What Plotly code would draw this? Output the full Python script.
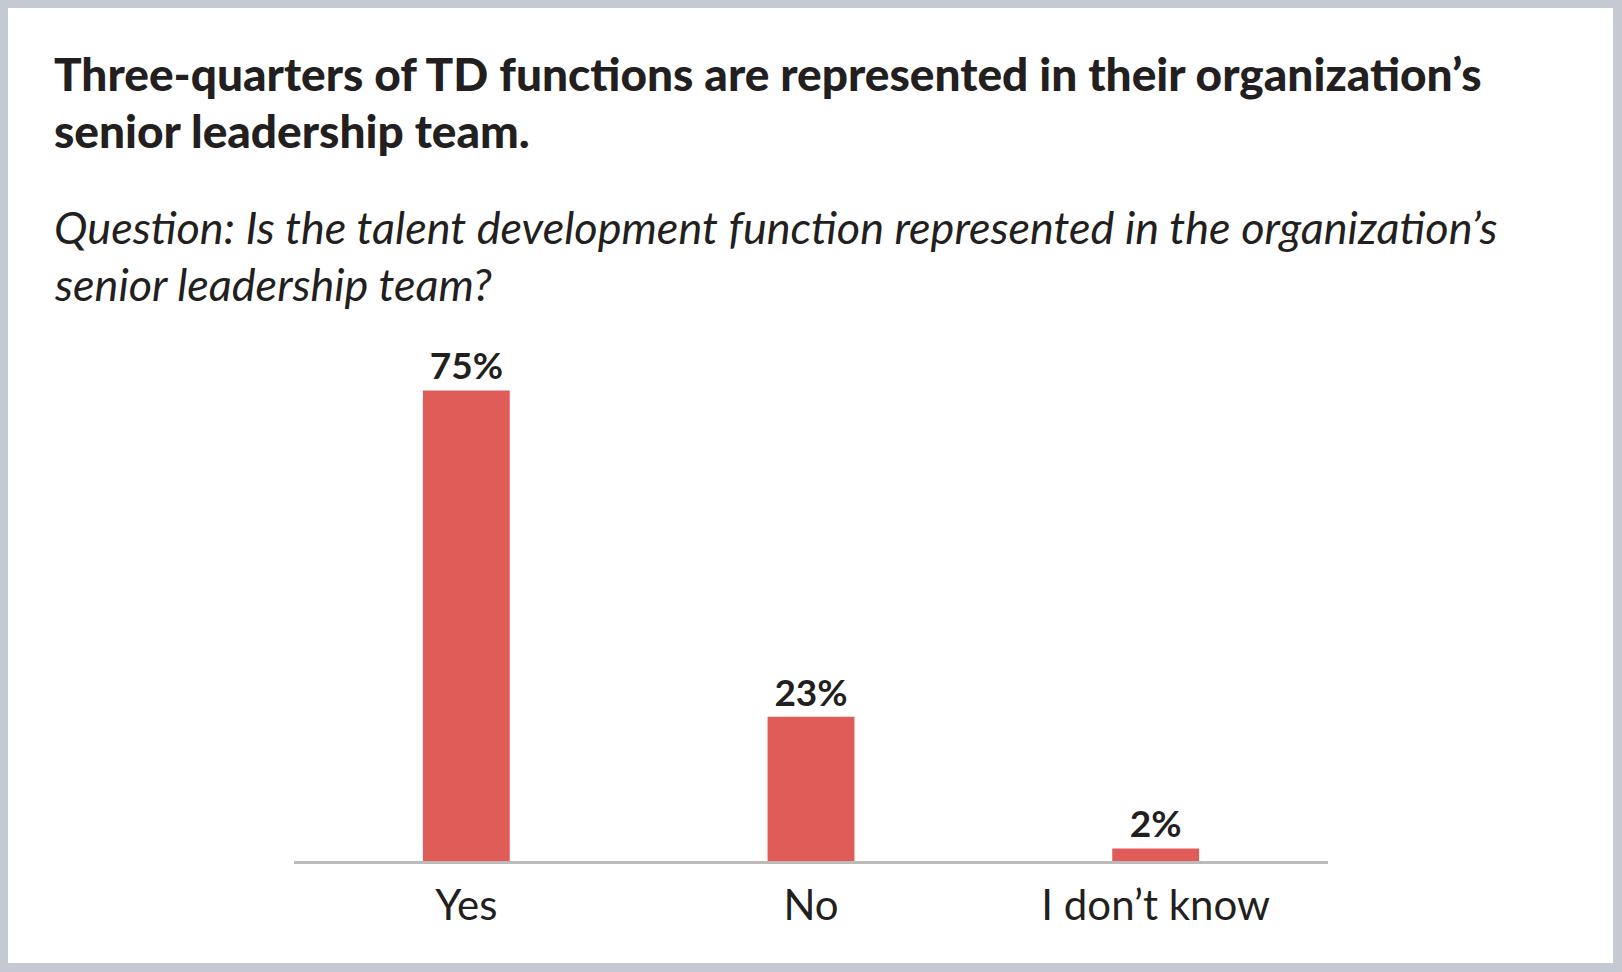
import plotly.graph_objects as go

categories = ["Yes", "No", "I don’t know"]
values = [75, 23, 2]
value_labels = ["75%", "23%", "2%"]

title_lines = [
    "Three-quarters of TD functions are represented in their organization’s",
    "senior leadership team.",
]
subtitle_lines = [
    "Question: Is the talent development function represented in the organization’s",
    "senior leadership team?",
]

W, H = 1622, 972
L, R, T, B = 294, 294, 359, 111
PW, PH = W - L - R, H - T - B

def px_x(px):
    return (px - L) / PW

def px_y(py):
    return (H - B - py) / PH

FONT = "Lato"
DARK = "#231F20"
BAR = "#E05C59"

fig = go.Figure()
fig.add_trace(go.Bar(
    x=categories,
    y=values,
    marker=dict(color=BAR, line=dict(width=0)),
    text=value_labels,
    textposition="outside",
    constraintext="none",
    cliponaxis=False,
    textfont=dict(family=FONT, size=37, color=DARK, weight="bold"),
    hoverinfo="skip",
))

annotations = []
for i, line in enumerate(title_lines):
    annotations.append(dict(
        text=line, xref="paper", yref="paper",
        x=px_x(52), y=px_y([73, 131][i]), xanchor="left", yanchor="middle",
        showarrow=False,
        font=dict(family=FONT, size=46, color=DARK, weight=900),
    ))
for i, line in enumerate(subtitle_lines):
    annotations.append(dict(
        text=line, xref="paper", yref="paper",
        x=px_x(52), y=px_y([227, 284][i]), xanchor="left", yanchor="middle",
        showarrow=False,
        font=dict(family=FONT, size=45, color=DARK, style="italic"),
    ))

fig.update_layout(
    width=W, height=H,
    margin=dict(l=L, r=R, t=T, b=B, pad=0),
    paper_bgcolor="#C5CAD2",
    plot_bgcolor="rgba(0,0,0,0)",
    showlegend=False,
    bargap=0.748,
    annotations=annotations,
    shapes=[dict(
        type="rect", xref="paper", yref="paper", layer="below",
        x0=px_x(8), x1=px_x(1613), y0=px_y(963), y1=px_y(8),
        fillcolor="white", line=dict(width=0),
    )],
    xaxis=dict(
        showgrid=False, zeroline=False, showline=True,
        linecolor="#BBBBBB", linewidth=3,
        ticks="", tickfont=dict(family=FONT, size=42, color=DARK),
        ticklabelstandoff=6,
        range=[-0.5, 2.5], fixedrange=True,
    ),
    yaxis=dict(
        showgrid=False, zeroline=False, showline=False,
        showticklabels=False, range=[0, 80], fixedrange=True,
    ),
)

fig.write_html(
    "out.html",
    config={"displayModeBar": False},
    post_script="document.body.style.margin='0';document.body.style.overflow='hidden';",
)
